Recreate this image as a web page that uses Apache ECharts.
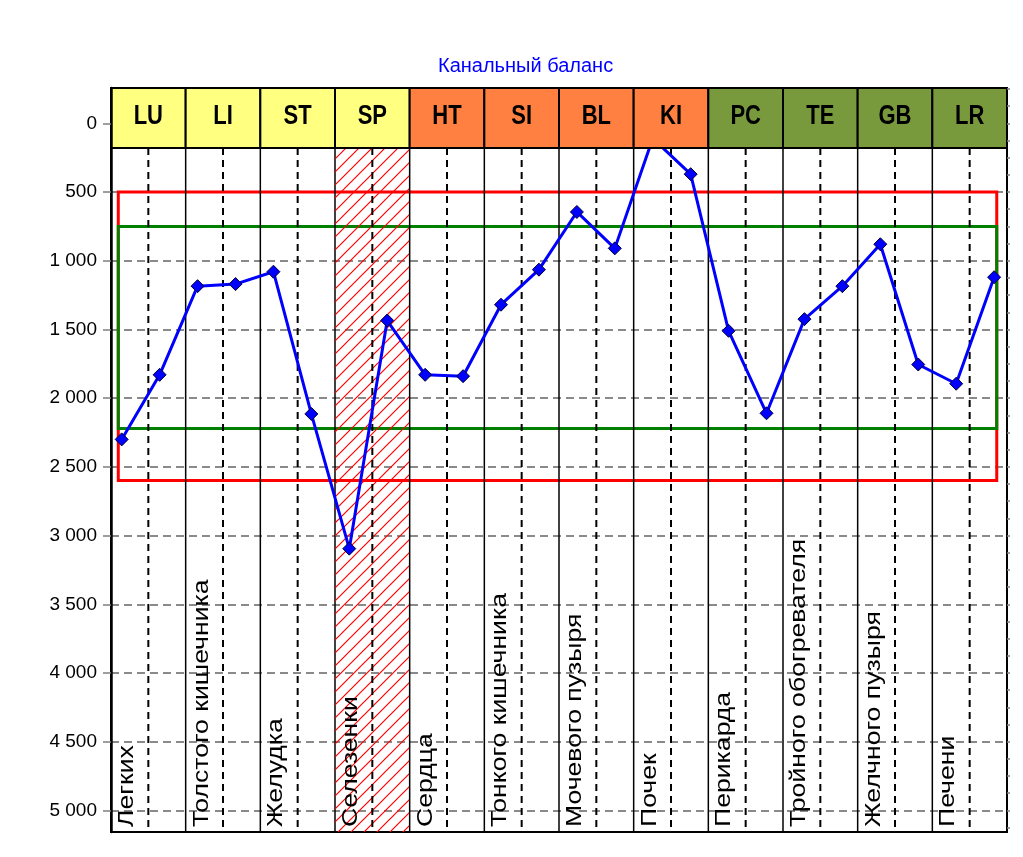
<!DOCTYPE html>
<html>
<head>
<meta charset="utf-8">
<script src="https://cdn.jsdelivr.net/npm/echarts@6/dist/echarts.min.js"></script>
<style>
html, body { margin: 0; background: #fff; }
#chart { width: 1023px; height: 857px; }
</style>
</head>
<body>
<div id="chart"></div>
<script>
// каналы
var channelCodes = ['LU', 'LI', 'ST', 'SP', 'HT', 'SI', 'BL', 'KI', 'PC', 'TE', 'GB', 'LR'];
var channelNames = ['Легких', 'Толстого кишечника', 'Желудка', 'Селезенки', 'Сердца', 'Тонкого кишечника',
    'Мочевого пузыря', 'Почек', 'Перикарда', 'Тройного обогревателя', 'Желчного пузыря', 'Печени'];
var channelGroup = [0, 0, 0, 0, 1, 1, 1, 1, 2, 2, 2, 2];
var hatchedChannels = ['SP'];

// по две точки на канал
var balanceValues = [2300, 1830, 1185, 1170, 1080, 2115, 3095, 1435, 1830, 1840, 1320, 1065,
    645, 910, 110, 370, 1510, 2110, 1425, 1185, 880, 1755, 1895, 1120];

// коридоры нормы
var redRange = [500, 2600];
var greenRange = [750, 2220];

// подписи оси
var yTicks = [0, 500, 1000, 1500, 2000, 2500, 3000, 3500, 4000, 4500, 5000];
var yMinorTicks = [];
for (var t = -250; t <= 5125; t += 125) yMinorTicks.push(t);

var yMin = -257, yMax = 5157, headerBottom = 180;
var groupColors = ['#FFFF80', '#FF8040', '#789A3C'];
var fontFamily = '"Liberation Sans", Arial, sans-serif';

function fmt(v) {
    return String(v).replace(/\B(?=(\d{3})+(?!\d))/g, ' ');
}

// штриховка для SP
var hatch = document.createElement('canvas');
hatch.width = 13;
hatch.height = 13;
var hctx = hatch.getContext('2d');
hctx.strokeStyle = '#FF0000';
hctx.lineWidth = 1.2;
hctx.beginPath();
hctx.moveTo(-2, 15); hctx.lineTo(15, -2);
hctx.moveTo(-2, 2); hctx.lineTo(2, -2);
hctx.moveTo(11, 15); hctx.lineTo(15, 11);
hctx.stroke();

function renderColumn(params, api) {
    var i = api.value(0);
    var tl = api.coord([i, yMin]);
    var br = api.coord([i + 1, yMax]);
    var hb = api.coord([i, headerBottom])[1];
    var cx = (tl[0] + br[0]) / 2;
    var children = [];
    if (hatchedChannels.indexOf(channelCodes[i]) >= 0) {
        children.push({
            type: 'rect',
            shape: { x: tl[0], y: hb, width: br[0] - tl[0], height: br[1] - hb },
            style: { fill: { image: hatch, repeat: 'repeat' } }
        });
    }
    children.push({
        type: 'line',
        shape: { x1: cx, y1: hb, x2: cx, y2: br[1] },
        style: { stroke: '#000', lineWidth: 2, lineDash: [7, 5] }
    });
    children.push({
        type: 'line',
        shape: { x1: br[0], y1: tl[1], x2: br[0], y2: br[1] },
        style: { stroke: '#000', lineWidth: 1.5 }
    });
    children.push({
        type: 'text',
        x: tl[0] + 16,
        y: br[1] - 5,
        rotation: Math.PI / 2,
        scaleX: 1.21,
        style: {
            text: channelNames[i],
            fontSize: 22,
            fontFamily: fontFamily,
            fill: '#000',
            align: 'left',
            verticalAlign: 'middle'
        }
    });
    return { type: 'group', children: children };
}

function renderHeader(params, api) {
    var i = api.value(0);
    var tl = api.coord([i, yMin]);
    var br = api.coord([i + 1, headerBottom]);
    return {
        type: 'group',
        children: [{
            type: 'rect',
            shape: { x: tl[0], y: tl[1], width: br[0] - tl[0], height: br[1] - tl[1] },
            style: { fill: groupColors[channelGroup[i]], stroke: '#000', lineWidth: 2 }
        }, {
            type: 'text',
            x: (tl[0] + br[0]) / 2,
            y: 117,
            scaleY: 1.22,
            style: {
                text: channelCodes[i],
                fontSize: 22,
                fontWeight: 'bold',
                fontFamily: fontFamily,
                fill: '#000',
                align: 'center',
                verticalAlign: 'middle'
            }
        }]
    };
}

var myChart = echarts.init(document.getElementById('chart'));

var option = {
    animation: false,
    backgroundColor: '#fff',
    title: {
        text: 'Канальный баланс',
        left: 433,
        top: 51,
        textStyle: { color: '#0000FF', fontSize: 20, fontWeight: 'normal', fontFamily: fontFamily }
    },
    grid: {
        left: 111, right: 16, top: 88, bottom: 25,
        show: true, borderColor: '#000', borderWidth: 2, backgroundColor: '#fff'
    },
    xAxis: [
        { type: 'value', min: -0.282, max: 23.34, show: false },
        { type: 'value', min: 0, max: 12, show: false }
    ],
    yAxis: [
        {
            type: 'value', inverse: true, min: yMin, max: yMax, z: 10,
            axisLine: { show: true, onZero: false, lineStyle: { color: '#000', width: 2.5 } },
            axisTick: { show: true, customValues: yTicks, length: 8, lineStyle: { color: '#808080', width: 1.5 } },
            axisLabel: { customValues: yTicks, formatter: fmt, fontSize: 19, color: '#000', margin: 14, fontFamily: fontFamily },
            splitLine: { show: false }
        },
        {
            type: 'value', inverse: true, min: yMin, max: yMax, z: 10,
            axisLine: { show: false, onZero: false },
            axisTick: { show: true, customValues: yMinorTicks, length: 3, lineStyle: { color: '#808080', width: 1.5 } },
            axisLabel: { show: false },
            splitLine: { show: false }
        },
        {
            type: 'value', inverse: true, min: yMin, max: yMax,
            axisLine: { show: false, onZero: false },
            axisTick: { show: false, customValues: yTicks },
            axisLabel: { show: false },
            splitLine: { show: true, lineStyle: { color: '#8a8a8a', width: 2, type: [8, 5] } }
        }
    ],
    series: [
        {
            type: 'custom',
            xAxisIndex: 1,
            yAxisIndex: 0,
            z: 1,
            silent: true,
            renderItem: renderColumn,
            data: channelCodes.map(function (c, i) { return [i, 0]; })
        },
        {
            name: 'Канальный баланс',
            type: 'line',
            xAxisIndex: 0,
            yAxisIndex: 0,
            z: 3,
            data: balanceValues.map(function (v, i) { return [i, v]; }),
            symbol: 'diamond',
            symbolSize: 13,
            lineStyle: { color: '#0000FF', width: 3 },
            itemStyle: { color: '#0000FF', borderColor: '#000033', borderWidth: 1 },
            markArea: {
                silent: true,
                itemStyle: { color: 'rgba(0,0,0,0)', borderWidth: 3 },
                data: [
                    [{ xAxis: -0.09, yAxis: redRange[0], itemStyle: { borderColor: '#FF0000' } },
                     { xAxis: 23.07, yAxis: redRange[1] }],
                    [{ xAxis: -0.09, yAxis: greenRange[0], itemStyle: { borderColor: '#008000' } },
                     { xAxis: 23.07, yAxis: greenRange[1] }]
                ]
            }
        },
        {
            type: 'custom',
            xAxisIndex: 1,
            yAxisIndex: 0,
            z: 5,
            silent: true,
            renderItem: renderHeader,
            data: channelCodes.map(function (c, i) { return [i, 0]; })
        }
    ]
};

myChart.setOption(option);
</script>
</body>
</html>
